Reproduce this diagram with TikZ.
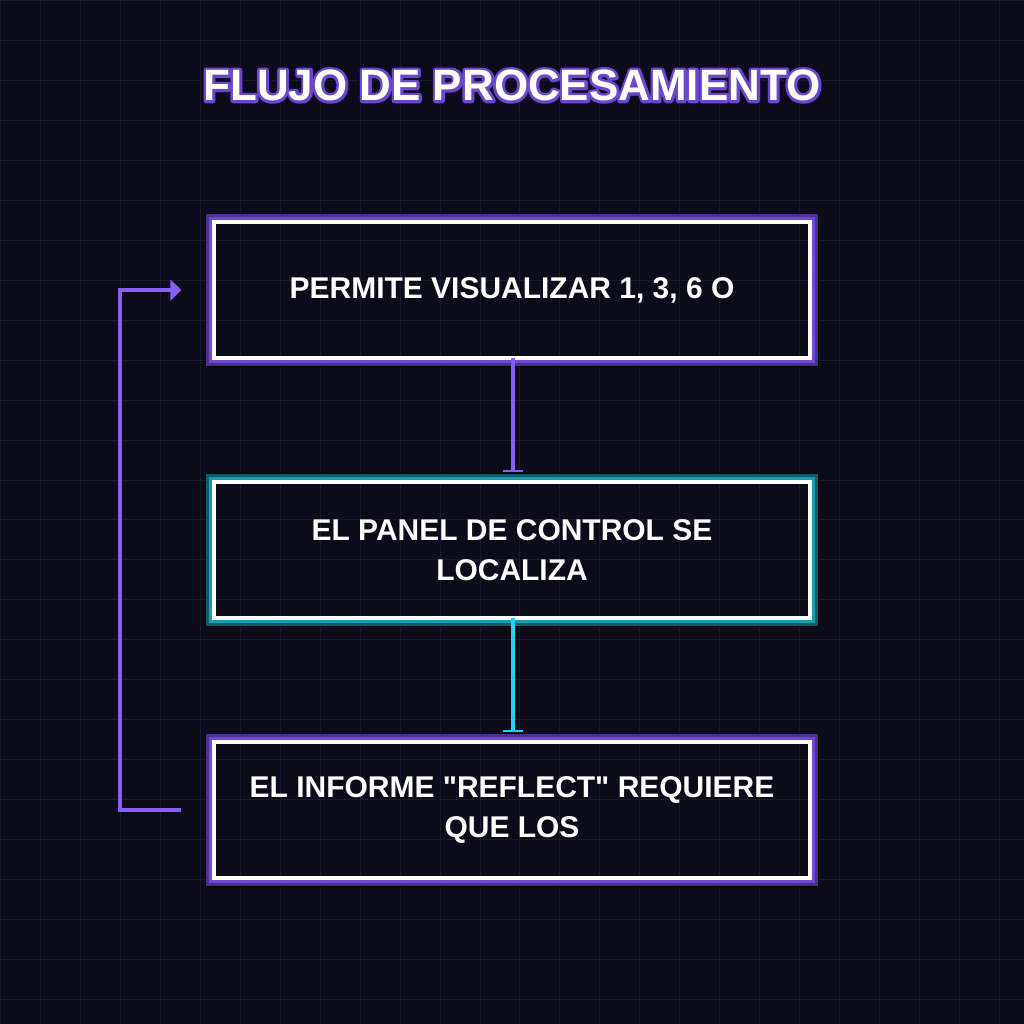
\documentclass[tikz,border=0pt]{standalone}
\usepackage{fontspec}
\setmainfont{Liberation Sans}[Ligatures=TeXOff]
\usetikzlibrary{arrows.meta}
\definecolor{bgdark}{HTML}{0B0B1A}
\definecolor{gridline}{HTML}{1A1A2F}
\definecolor{violet}{HTML}{8B5CF6}
\definecolor{violetdark}{HTML}{4C2F95}
\definecolor{violetmid}{HTML}{6E48D0}
\definecolor{cyanline}{HTML}{22D3EE}
\definecolor{tealdark}{HTML}{0E5F6B}
\definecolor{tealmid}{HTML}{1A9EB0}
\newcommand{\outlined}[3]{\special{pdf:literal direct 1 Tr 1 j #1 w #2 RG}#3\special{pdf:literal direct 0 Tr 0 j}}

\begin{document}
\begin{tikzpicture}[x=1pt,y=-1pt,
  stepbox/.style={draw=white,line width=4pt,minimum width=596pt,minimum height=136pt,
    inner sep=0pt,outer sep=0pt,text=white,align=center,
    font=\bfseries\fontsize{30}{40}\selectfont},
  titletext/.style={font=\bfseries\fontsize{44}{48}\selectfont},
  flowp/.style={violet,line width=4pt,-{Bar[width=21pt,line width=2pt]}},
  flowc/.style={cyanline,line width=4pt,-{Bar[width=21pt,line width=2pt]}},
  loopline/.style={violet,line width=4pt,-{Triangle[length=11pt,width=21pt]}}]
% background and grid
\fill[bgdark] (0,0) rectangle (1024,1024);
\draw[gridline,line width=1pt] (0,0) grid[step=40pt] (1024,1024);

% title with glow
\node[titletext] (glow) at (512,85) {\outlined{9}{0.07 0.04 0.16}{FLUJO DE PROCESAMIENTO}};
\node[titletext] (glowin) at (512,85) {\outlined{5.5}{0.42 0.28 0.80}{FLUJO DE PROCESAMIENTO}};
\node[titletext,text=white] (title) at (512,85) {FLUJO DE PROCESAMIENTO};

% glow frames
\draw[black,line width=1.5pt] (205.5,213.5) rectangle (818.5,366.5);
\draw[violetdark,line width=6pt] (209,217) rectangle (815,363);
\draw[violetmid,line width=3pt] (210.5,218.5) rectangle (813.5,361.5);

\draw[black,line width=1.5pt] (205.5,473.5) rectangle (818.5,626.5);
\draw[tealdark,line width=6pt] (209,477) rectangle (815,623);
\draw[tealmid,line width=3pt] (210.5,478.5) rectangle (813.5,621.5);

\draw[black,line width=1.5pt] (205.5,733.5) rectangle (818.5,886.5);
\draw[violetdark,line width=6pt] (209,737) rectangle (815,883);
\draw[violetmid,line width=3pt] (210.5,738.5) rectangle (813.5,881.5);

% boxes
\node[stepbox] (b1) at (512,290) {PERMITE VISUALIZAR 1, 3, 6 O};
\node[stepbox] (b2) at (512,550) {EL PANEL DE CONTROL SE\\LOCALIZA};
\node[stepbox] (b3) at (512,810) {EL INFORME "REFLECT" REQUIERE\\QUE LOS};

% connectors
\draw[flowp] ([xshift=1pt]b1.south) -- ([xshift=1pt,yshift=10pt]b2.north);
\draw[flowc] ([xshift=1pt]b2.south) -- ([xshift=1pt,yshift=10pt]b3.north);
\draw[loopline] ([xshift=-33pt]b3.west) -- ++(-61,0) |- ([xshift=-33pt]b1.west);
\end{tikzpicture}
\end{document}
